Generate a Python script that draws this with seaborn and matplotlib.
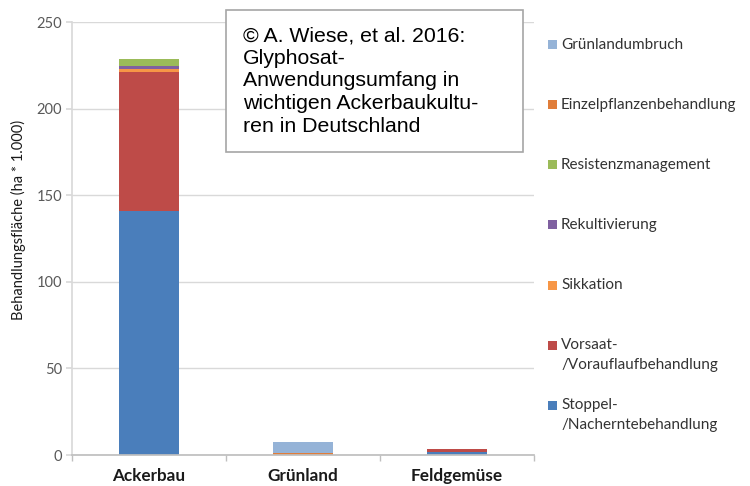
import matplotlib
matplotlib.use("Agg")
import matplotlib.pyplot as plt
from matplotlib.patches import Rectangle
import seaborn as sns
import numpy as np
import pandas as pd

categories = ["Ackerbau", "Grünland", "Feldgemüse"]
series = ["Stoppel-\n/Nacherntebehandlung", "Vorsaat-\n/Vorauflaufbehandlung", "Sikkation",
          "Rekultivierung", "Resistenzmanagement", "Einzelpflanzenbehandlung", "Grünlandumbruch"]
stoppel = [141, 0, 2]
vorsaat = [80, 0, 1.2]
sikkation = [1.7, 0, 0]
rekultivierung = [1.7, 0, 0]
resistenz = [4, 0, 0]
einzelpflanzen = [0, 1, 0]
gruenlandumbruch = [0, 6.5, 0]
colors = ["#4A7EBB", "#BE4B48", "#F79646", "#7F60A0", "#9BBB59", "#E07D3A", "#95B3D7"]
yticks = [0, 50, 100, 150, 200, 250]
note = "© A. Wiese, et al. 2016:\nGlyphosat-\nAnwendungsumfang in\nwichtigen Ackerbaukultu-\nren in Deutschland"
ylabel = "Behandlungsfläche (ha * 1.000)"

values = np.array([stoppel, vorsaat, sikkation, rekultivierung, resistenz, einzelpflanzen, gruenlandumbruch])
cum = np.cumsum(values, axis=0)

sns.set_theme(style="white")
plt.rcParams["font.family"] = ["Lato", "DejaVu Sans"]

W, H = 750, 486
fig = plt.figure(figsize=(7.5, 4.86), dpi=100)
ax = fig.add_axes([72 / W, 1 - 455 / H, (534 - 72) / W, (455 - 22) / H])

for i in range(len(series) - 1, -1, -1):
    df = pd.DataFrame({"cat": categories, "val": cum[i]})
    sns.barplot(data=df, x="cat", y="val", order=categories, color=colors[i],
                saturation=1, width=0.39, ax=ax, linewidth=0)

ax.set_xlim(-0.5, 2.5)
ax.set_ylim(0, 250)
ax.set_yticks(yticks)
ax.set_yticklabels([str(t) for t in yticks], fontsize=10.5, color="#595959")
ax.yaxis.grid(True, color="#D9D9D9", linewidth=1)
ax.set_axisbelow(True)
ax.set_xlabel("")
ax.set_ylabel("")
ax.set_xticks([0, 1, 2])
ax.set_xticklabels(categories, fontsize=12.3, fontweight="bold", color="#1a1a1a")
ax.set_xticks([-0.5, 0.5, 1.5, 2.5], minor=True)
ax.tick_params(axis="x", which="major", length=0, pad=9)
ax.tick_params(axis="x", which="minor", length=4, color="#BFBFBF", direction="out", bottom=True)
ax.tick_params(axis="y", length=4, color="#D9D9D9", direction="out", left=True, pad=3)
for s in ["top", "right"]:
    ax.spines[s].set_visible(False)
ax.spines["left"].set_color("#D9D9D9")
ax.spines["bottom"].set_color("#BFBFBF")

fig.text(18 / W, 1 - 220 / H, ylabel, rotation=90, ha="center", va="center", fontsize=10.5, color="#1a1a1a")

# annotation box
fig.patches.append(Rectangle((226 / W, 1 - 152 / H), (523 - 226) / W, (152 - 10) / H,
                             transform=fig.transFigure, facecolor="white", edgecolor="#A6A6A6",
                             linewidth=1.2, zorder=5))
fig.text(243 / W, 1 - 26 / H, note, ha="left", va="top", fontsize=15.3,
         family=["Liberation Sans", "DejaVu Sans"], linespacing=1.25, color="#000000", zorder=6)

# legend
legend_y = [405, 345, 285, 225, 165, 105, 45]
for i, lab in enumerate(series):
    y = legend_y[i]
    fig.patches.append(Rectangle((548 / W, 1 - (y + 4.5) / H), 9 / W, 9 / H, transform=fig.transFigure,
                                 facecolor=colors[i], edgecolor="none"))
    for j, line in enumerate(lab.split("\n")):
        fig.text(561 / W, 1 - (y + 20 * j) / H, line, ha="left", va="center", fontsize=11, color="#333333")

fig.savefig("out.png", dpi=100)
